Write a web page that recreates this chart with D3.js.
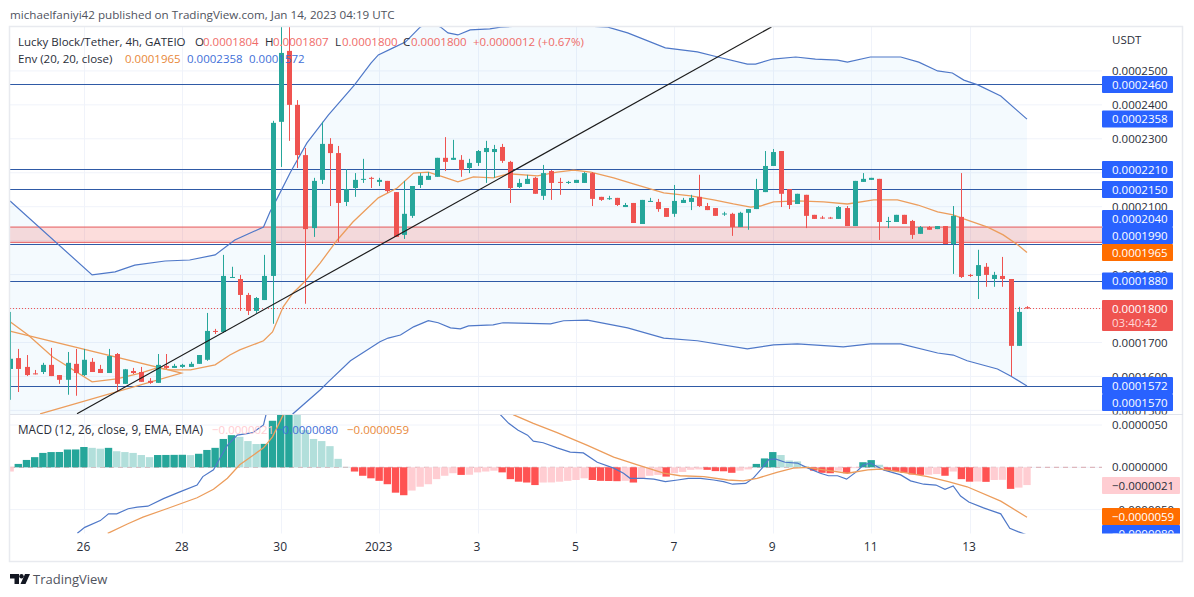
<!DOCTYPE html>
<html><head><meta charset="utf-8">
<script src="https://cdn.jsdelivr.net/npm/d3@7"></script>
<style>html,body{margin:0;padding:0;background:#fff;overflow:hidden}svg{display:block}text{font-family:"Open Sans",sans-serif}</style>
</head><body><svg id="c" width="1194" height="597"></svg>
<script>
// All price-type values are in units of 0.0000001 USDT
const opens=[1622,1654,1628,1609,1613,1634,1604,1590,1637,1604,1643,1622,1610,1666,1578,1616,1613,1587,1581,1631,1625,1628,1628,1637,1649,1734,1731,1890,1887,1840,1793,1825,1896,2350,2559,2400,2252,2037,2179,2285,2258,2114,2155,2179,2185,2173,2176,2143,2017,2073,2164,2179,2188,2244,2238,2238,2214,2229,2261,2261,2276,2232,2158,2167,2185,2132,2205,2173,2170,2170,2170,2199,2129,2123,2126,2099,2111,2049,2114,2114,2096,2079,2111,2114,2129,2102,2096,2078,2079,2040,2082,2093,2143,2220,2264,2152,2108,2135,2076,2068,2068,2064,2096,2043,2173,2179,2182,2055,2055,2076,2058,2020,2040,2034,2043,1990,2070,1899,1896,1923,1887,1896,1887,1690,1804];
const highs=[1790,1681,1663,1619,1640,1684,1604,1672,1681,1681,1654,1634,1681,1669,1622,1625,1628,1595,1666,1666,1637,1637,1643,1663,1787,1740,1958,1923,1899,1846,1834,1958,2353,2640,2640,2414,2273,2185,2350,2302,2279,2211,2199,2241,2188,2185,2176,2143,2176,2161,2199,2202,2244,2305,2297,2252,2241,2267,2294,2282,2285,2235,2182,2194,2188,2223,2208,2185,2176,2179,2202,2202,2129,2132,2126,2111,2111,2120,2126,2123,2096,2164,2126,2135,2194,2111,2096,2085,2082,2085,2093,2182,2264,2270,2264,2152,2138,2135,2076,2073,2070,2102,2102,2176,2199,2185,2182,2070,2076,2076,2061,2043,2043,2043,2043,2102,2199,1902,1973,1934,1908,1952,1887,1805,1807];
const lows=[1531,1554,1601,1606,1607,1601,1578,1546,1543,1601,1613,1610,1610,1554,1578,1607,1584,1578,1581,1622,1625,1625,1628,1637,1646,1725,1728,1890,1793,1781,1787,1825,1755,2217,2294,2214,1814,2011,2167,2102,1996,2102,2129,2170,2155,2161,2141,2011,2005,2067,2155,2179,2188,2205,2238,2188,2199,2220,2170,2185,2229,2111,2155,2167,2138,2120,2120,2135,2167,2170,2170,2102,2117,2120,2102,2099,2052,2049,2114,2085,2070,2070,2111,2090,2099,2090,2073,2073,2014,2040,2032,2093,2143,2220,2099,2093,2108,2037,2064,2064,2064,2064,2043,2043,2173,2179,2002,2037,2055,2049,2005,2020,2032,2034,1990,1902,1890,1893,1828,1864,1864,1864,1601,1690,1800];
const closes=[1652,1622,1604,1607,1634,1601,1590,1640,1610,1649,1613,1610,1660,1578,1621,1610,1584,1581,1634,1625,1631,1634,1637,1663,1734,1731,1896,1893,1840,1793,1831,1896,2347,2553,2400,2252,2034,2176,2285,2258,2111,2152,2179,2182,2182,2179,2146,2011,2079,2161,2191,2191,2244,2232,2244,2208,2229,2264,2273,2270,2235,2155,2170,2182,2138,2199,2170,2170,2173,2179,2199,2123,2120,2125,2105,2105,2052,2120,2117,2093,2070,2117,2120,2126,2102,2090,2073,2080,2040,2082,2093,2152,2220,2261,2138,2105,2138,2073,2064,2066,2066,2099,2043,2176,2182,2185,2055,2058,2076,2049,2017,2040,2032,2043,1990,2073,1893,1896,1928,1899,1899,1887,1690,1790,1800];

const envIdx=[0,10,12.8,15.2,18.9,21.9,25,27.4,30.9,31.7,32.6,34.2,36.2,38.8,42,44,44.9,46.7,48.2,50,51.2,52.5,53.4,54.6,56.1,58.5,59.8,65.9,72.9,75.3,79.9,83.8,86.3,89.9,90.9,93,95.8,98.2,100.9,102.1,104.9,108.6,110.8,113.1,114.9,116.3,118,120.8,124];
const envUpper=[2117,1899,1908,1928,1940,1943,1958,2002,2040,2085,2126,2202,2288,2370,2459,2523,2547,2568,2585,2629,2644,2629,2612,2606,2621,2624,2629,2638,2629,2612,2568,2556,2541,2520,2520,2535,2541,2535,2532,2526,2541,2541,2526,2500,2494,2473,2459,2426,2358];
const lowIdx=[0,10,30.9,34.5,37.8,38.8,41.5,45.1,46.1,47.6,49.2,51,52.2,53.7,54.9,55.9,58.9,60.1,65.9,67.5,70.4,75.3,79.7,83.8,89.9,93.1,96,101.6,104.9,108.6,113.1,115,116.7,120.4,122,124];
const envLower=[1408,1267,1364,1490,1560,1584,1646,1702,1713,1722,1746,1764,1758,1743,1740,1749,1752,1758,1755,1764,1766,1743,1713,1705,1681,1693,1696,1687,1696,1696,1669,1663,1646,1622,1601,1572];
const basisIdx=[0,2.2,5.2,10,13,15.9,17.9,19.5,22,23.2,25,26.8,28,30.9,32,33.3,34.5,36,37.8,39.9,41.8,44.9,47.2,49.2,51,52.8,54.6,56.5,58.9,60.8,64.3,66.7,68.7,70.8,73.6,76,79.7,83,85.8,88.2,90.3,91.5,93.1,96,99.2,102.1,105.3,108.2,110.7,113.1,115,116.3,119.2,121.1,122.9,124];
const envBasis=[1761,1722,1657,1584,1593,1610,1625,1619,1619,1625,1634,1663,1678,1705,1731,1805,1846,1881,1934,2002,2055,2126,2155,2199,2202,2188,2173,2188,2185,2197,2191,2202,2208,2202,2185,2167,2141,2132,2120,2108,2099,2102,2114,2117,2114,2108,2120,2120,2105,2085,2076,2064,2040,2017,1987,1965];

const hLevels=[2460,2210,2150,1990,1880,1570];
const zoneTop=2040, zoneBottom=1995;
const lastPrice=1800;
const trendIdx=[8.16,92.84], trendVal=[1490,2629.5];
const wedgeIdx=[0.1,20.9,3.66], wedgeVal=[1733,1610,1490];

const hist=[-5,4,8.7,12,17,18,18.1,21,21.1,24,23,22,23,19,18,17,14.5,12,14.5,14.6,14.7,14.8,14.4,16,20.5,23,33.5,38,36,31,27.5,27.7,55,63,70,65,44,33.5,31,25,10,0.5,-5,-10,-13,-16,-20,-30,-33,-27.5,-23,-20,-14,-10,-7,-9,-8.8,-6,-5,-4,-6,-14,-17,-18,-21,-18,-17.9,-17,-16,-15,-13,-15,-16,-16.2,-16.4,-16,-18,-13,-10,-9,-11,-7,-5.5,-3,-2.5,-3,-4.5,-4.7,-6.5,-4,-2.5,4,10.5,18,14.5,8,7,1,-4,-6.5,-7,-4,-7,-1,6,8.5,3,-4,-4.5,-6.5,-8.5,-9,-8.8,-8,-10,-5,-14,-17,-16.8,-17.2,-15,-14.8,-25.5,-24,-21];
const macdIdx=[8.2,9.1,11,12,13,14.4,15.5,16.8,18.7,20.7,22.8,23.5,24.8,25.6,26.5,27.7,29.6,30.9,31.2,33,45,58.8,59.8,60.8,61.9,63.1,63.8,65,66.7,68.3,69.9,71.6,73.6,74.8,75.6,77.2,78.5,79.9,81.4,82.7,84.2,85.8,87,88.1,89.7,90.6,91.7,92.5,93.3,94.5,96,97.3,98.8,99.8,100.9,102,103.1,104.1,104.9,106.5,108.6,109.8,111.4,112.9,114,115,115.9,116.9,118.7,120.8,121.9,122.9,124];
const macdVal=[-78,-71,-63,-55,-55,-49,-47,-46,-37,-29,-21,-11,-3,11,26,38,41,50,62,110,220,72,62,52,44,38,31,29,23,18,17,6,-1,-7,-13,-13,-14,-17,-15,-13,-13,-15,-17,-20,-19,-13,-1,9,10,6,5,-1,-7,-10,-10,-14,-6,3,5,-3,-9,-16,-20,-21,-26,-22,-34,-41,-48,-55,-72,-76,-80];
const sigIdx=[11.9,14.3,16.2,19.1,22.8,24.8,26.5,28,30.9,32,33.3,45,61.4,63.8,66.7,70.4,73.6,76.5,79.7,81.7,84.6,87.5,89.4,91.1,93.5,95.5,97.3,99.2,102.1,104.6,106.2,108.9,111.9,114.4,116.7,120.8,124];
const sigVal=[-78,-67,-59,-49,-36,-26,-13,3,23,36,62,170,62,52,41,26,12,3,-7,-10,-11,-15,-16,-13,-6,-1,0,-3,-7,-3,-2,-6,-11,-17,-23,-40,-59];

const timeIdx=[9,21,33,45,57,69,81,93,105,117];
const timeLabels=["26","28","30","2023","3","5","7","9","11","13"];
const priceTicks=[2500,2400,2300,2100,1900,1700,1600,1500];
const gridPrices=[2500,2400,2300,2200,2100,2000,1900,1800,1700,1600,1500];
const macdTicks=[50,0,-50];

const L=10,R=1102,PT=27,PB=414.5,MT=415,MB=533.5,FS=11.5;
const x=d3.scaleLinear().domain([0,124]).range([10.1,1027]);
const y=d3.scaleLinear().domain([1570,2460]).range([386.6,84.5]);
const ym=d3.scaleLinear().domain([-50,50]).range([509.6,425]);
const fmt=v=>(v<0?"\u2212":"")+(Math.abs(v)/1e7).toFixed(7);

const GREEN="#26a69a",RED="#ef5350",BLUE="#2962ff",ORANGE="#ff6d00",ENV="#4f78c8",ENVO="#ec9d5c",HL="#2f5aa6",TXT="#2a2e39";
const svg=d3.select("#c");
const defs=svg.append("defs");
defs.append("clipPath").attr("id","pp").append("rect").attr("x",L).attr("y",PT).attr("width",R-L).attr("height",PB-PT);
defs.append("clipPath").attr("id","mp").append("rect").attr("x",L).attr("y",MT).attr("width",R-L).attr("height",MB-MT);
defs.append("clipPath").attr("id","ma").append("rect").attr("x",R).attr("y",MT).attr("width",1183-R).attr("height",MB-MT);
defs.append("clipPath").attr("id","pa").append("rect").attr("x",R).attr("y",PT).attr("width",1183-R).attr("height",PB-PT);

svg.append("text").attr("x",10).attr("y",19).attr("font-size",11.65).attr("fill","#50535e").text("michaelfaniyi42 published on TradingView.com, Jan 14, 2023 04:19 UTC");

// grid
const grid=svg.append("g").attr("stroke","#f0f3fa").attr("stroke-width",1);
timeIdx.forEach(i=>grid.append("line").attr("x1",Math.round(x(i))+.5).attr("x2",Math.round(x(i))+.5).attr("y1",PT).attr("y2",MB));
gridPrices.forEach(p=>grid.append("line").attr("x1",L).attr("x2",R).attr("y1",y(p)).attr("y2",y(p)));
macdTicks.forEach(p=>grid.append("line").attr("x1",L).attr("x2",R).attr("y1",ym(p)).attr("y2",ym(p)));

// price pane
const pp=svg.append("g").attr("clip-path","url(#pp)");
const interp=(xs,ys,t)=>{const i=Math.max(1,d3.bisectLeft(xs,t));const a=Math.min(i,xs.length-1);const k=(t-xs[a-1])/(xs[a]-xs[a-1]);return ys[a-1]+k*(ys[a]-ys[a-1]);};
const allIdx=Array.from(new Set(envIdx.concat(lowIdx))).sort(d3.ascending);
pp.append("path").attr("fill","#2196f3").attr("fill-opacity",0.05)
 .attr("d",d3.area().x(d=>x(d)).y0(d=>y(interp(lowIdx,envLower,d))).y1(d=>y(interp(envIdx,envUpper,d)))(allIdx));
pp.append("rect").attr("x",L).attr("width",R-L).attr("y",y(zoneTop)).attr("height",y(zoneBottom)-y(zoneTop))
 .attr("fill","#ef5350").attr("fill-opacity",0.2);
[zoneTop,zoneBottom].forEach(v=>pp.append("line").attr("x1",L).attr("x2",R).attr("y1",y(v)).attr("y2",y(v)).attr("stroke","#e4575a").attr("stroke-width",1));
hLevels.forEach(v=>pp.append("line").attr("x1",L).attr("x2",R).attr("y1",Math.floor(y(v))+.5).attr("y2",Math.floor(y(v))+.5).attr("stroke",HL).attr("stroke-width",1));
pp.append("line").attr("x1",L).attr("x2",R).attr("y1",y(lastPrice)).attr("y2",y(lastPrice)).attr("stroke",RED).attr("stroke-dasharray","1 2");

const ln=(xs,ys,sc)=>d3.line().x((d,i)=>x(xs[i])).y((d,i)=>sc(ys[i]))(xs);
pp.append("path").attr("d",ln(envIdx,envUpper,y)).attr("fill","none").attr("stroke",ENV).attr("stroke-width",1.2);
pp.append("path").attr("d",ln(lowIdx,envLower,y)).attr("fill","none").attr("stroke",ENV).attr("stroke-width",1.2);
pp.append("path").attr("d",ln(basisIdx,envBasis,y)).attr("fill","none").attr("stroke",ENVO).attr("stroke-width",1.3);
pp.append("path").attr("d",ln(wedgeIdx,wedgeVal,y)).attr("fill","none").attr("stroke",ENVO).attr("stroke-width",1.3);

const cg=pp.selectAll("g.c").data(opens.map((o,i)=>({i,o,h:highs[i],l:lows[i],c:closes[i]}))).join("g").attr("class","c");
cg.append("line").attr("x1",d=>Math.round(x(d.i))+.5).attr("x2",d=>Math.round(x(d.i))+.5)
 .attr("y1",d=>y(d.h)).attr("y2",d=>y(d.l)).attr("stroke",d=>d.c>=d.o?GREEN:RED);
cg.append("rect").attr("x",d=>Math.round(x(d.i))-2).attr("width",5)
 .attr("y",d=>y(Math.max(d.o,d.c))).attr("height",d=>Math.max(1,Math.abs(y(d.o)-y(d.c)))).attr("fill",d=>d.c>=d.o?GREEN:RED);

pp.append("path").attr("d",ln(trendIdx,trendVal,y)).attr("fill","none").attr("stroke","#1c1c1c").attr("stroke-width",1.2);

// MACD pane
const mp=svg.append("g").attr("clip-path","url(#mp)");
mp.append("line").attr("x1",L).attr("x2",R).attr("y1",ym(0)).attr("y2",ym(0)).attr("stroke","#d9a9b0").attr("stroke-dasharray","5 4");
mp.selectAll("rect.h").data(hist).join("rect").attr("class","h")
 .attr("x",(d,i)=>x(i)-3.7).attr("width",7.4)
 .attr("y",d=>d>=0?ym(d):ym(0)).attr("height",d=>Math.abs(ym(d)-ym(0)))
 .attr("fill",(d,i)=>{const p=i?hist[i-1]:d;return d>=0?(d>p?GREEN:"#b2dfdb"):(d<p?"#ff5252":"#ffcdd2");});
mp.append("path").attr("d",ln(macdIdx,macdVal,ym)).attr("fill","none").attr("stroke",ENV).attr("stroke-width",1.2);
mp.append("path").attr("d",ln(sigIdx,sigVal,ym)).attr("fill","none").attr("stroke",ENVO).attr("stroke-width",1.3);

// frame
const fr=svg.append("g").attr("fill","none").attr("stroke","#e8eaef");
fr.append("rect").attr("x",L-.5).attr("y",PT-.5).attr("width",1183-L).attr("height",562-PT).attr("stroke-width",1.5);
fr.append("line").attr("x1",L).attr("x2",1183).attr("y1",414.5).attr("y2",414.5).attr("stroke","#e0e3eb");

// axes
const priceAxis=d3.axisRight(y).tickValues(priceTicks).tickSize(0).tickPadding(10).tickFormat(fmt);
const pa=svg.append("g").attr("clip-path","url(#pa)").append("g").attr("transform",`translate(${R},0)`).call(priceAxis);
const macdAxis=d3.axisRight(ym).tickValues(macdTicks).tickSize(0).tickPadding(10).tickFormat(fmt);
const ma=svg.append("g").attr("clip-path","url(#ma)").append("g").attr("transform",`translate(${R},0)`).call(macdAxis);
[pa,ma].forEach(a=>{a.select(".domain").remove();a.selectAll("text").attr("font-size",FS).attr("fill",TXT).style("font-family",'"Open Sans",sans-serif');});
svg.append("text").attr("x",1112).attr("y",44).attr("font-size",FS).attr("fill",TXT).text("USDT");

const xAxis=d3.axisBottom(x).tickValues(timeIdx).tickSize(0).tickPadding(0).tickFormat((d,i)=>timeLabels[i]);
const xa=svg.append("g").attr("transform","translate(-1,542)").call(xAxis);
xa.select(".domain").remove();
xa.selectAll("text").attr("font-size",FS+.5).attr("fill",TXT).style("font-family",'"Open Sans",sans-serif');

// price labels
function tag(g,top,h,w,bg,t,col){
  g.append("rect").attr("x",R).attr("y",top).attr("width",w).attr("height",h).attr("rx",1).attr("fill",bg);
  g.append("text").attr("x",1112).attr("y",top+8.5).attr("dy",".35em").attr("font-size",FS).attr("fill",col).text(t);
}
const tp=svg.append("g");
tag(tp,76,17,71,BLUE,fmt(2460),"#fff");
tag(tp,110.5,17,71,BLUE,fmt(2358),"#fff");
tag(tp,161,17,71,BLUE,fmt(2210),"#fff");
tag(tp,181,17,71,BLUE,fmt(2150),"#fff");
tag(tp,210,17,71,BLUE,fmt(2040),"#fff");
tag(tp,227,17,71,BLUE,fmt(1990),"#fff");
tag(tp,244,17,71,ORANGE,fmt(1965),"#fff");
tag(tp,272.5,17,71,BLUE,fmt(1880),"#fff");
tag(tp,300,31,71,RED,fmt(1800),"#fff");
tp.append("text").attr("x",1112).attr("y",323).attr("dy",".35em").attr("font-size",FS).attr("fill","#ffd9d8").text("03:40:42");
tag(tp,377,17,71,BLUE,fmt(1572),"#fff");
tag(tp,394,17,71,BLUE,fmt(1570),"#fff");
const tm=svg.append("g").attr("clip-path","url(#ma)");
tag(tm,477,17,78,"#ffcdd2",fmt(-21),TXT);
tag(tm,525,17,78,BLUE,fmt(-80),"#fff");
tag(tm,508,17,78,ORANGE,fmt(-59),"#fff");

// legends
const leg=svg.append("g").attr("font-size",FS);
const put=(xx,yy,t,c)=>leg.append("text").attr("x",xx).attr("y",yy).attr("fill",c).text(t);
const LC="#ef6b68";
put(18,46,"Lucky Block/Tether, 4h, GATEIO",TXT);
put(195,46,"O",TXT);put(203,46,fmt(1804),LC);
put(265,46,"H",TXT);put(273,46,fmt(1807),LC);
put(335,46,"L",TXT);put(342,46,fmt(1800),LC);
put(403,46,"C",TXT);put(411,46,fmt(1800),LC);
put(473,46,"+"+fmt(12)+" (+0.67%)",LC);
put(18,63,"Env (20, 20, close)",TXT);
put(125,63,fmt(1965),"#e8883a");
put(187,63,fmt(2358),"#3f6fd8");
put(249,63,fmt(1572),"#3f6fd8");
leg.append("text").attr("x",18).attr("y",434).attr("fill",TXT).attr("font-size",11.75).text("MACD (12, 26, close, 9, EMA, EMA)");
put(212,434,fmt(-21),"#ffcdd2");
put(276,434,fmt(-80),"#3f6fd8");
put(347,434,fmt(-59),"#e8883a");

// footer
const lg=svg.append("g").attr("fill","#131722").attr("transform","translate(10,574)");
lg.append("path").attr("d","M0 0H9V10H4.5V4.5H0Z");
lg.append("circle").attr("cx",11.5).attr("cy",2.2).attr("r",2.2);
lg.append("path").attr("d","M15 0H20L15.5 10H10.5Z");
svg.append("text").attr("x",33).attr("y",584).attr("font-size",13).attr("fill","#50535e").text("TradingView");
</script></body></html>
